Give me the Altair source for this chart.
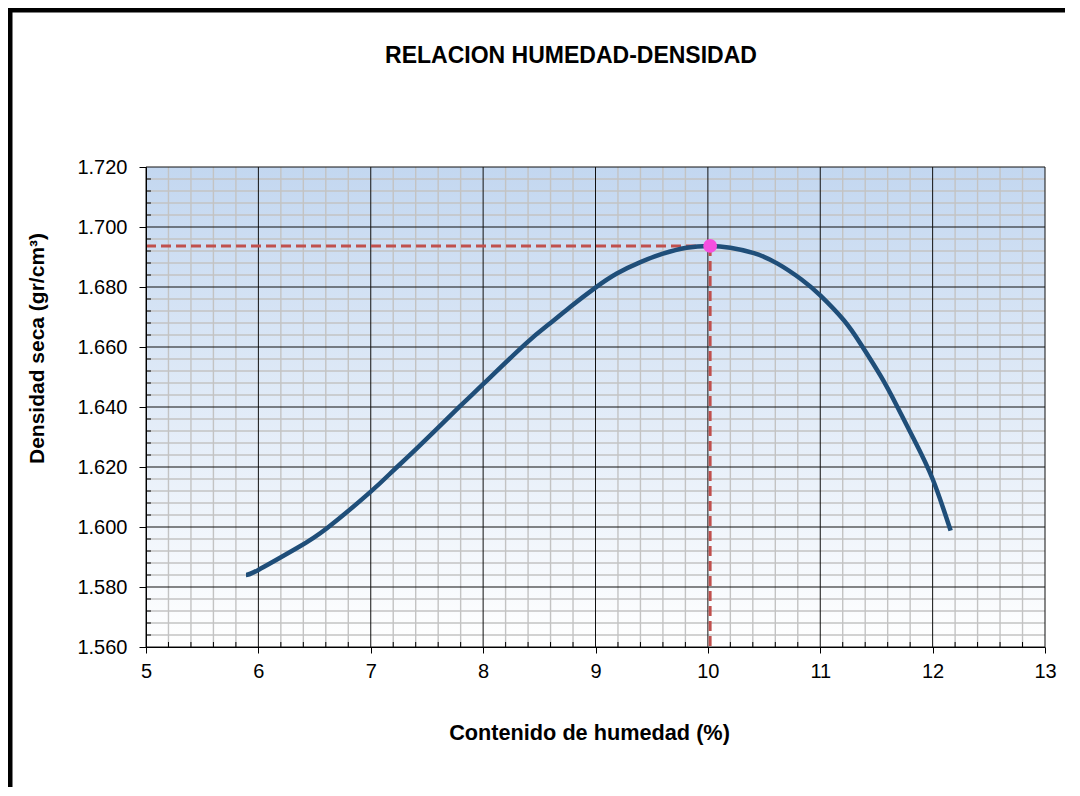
import altair as alt
import pandas as pd

# ---- data ----
humedad = [5.89, 6.00, 6.34, 6.61, 7.00, 7.20, 7.41, 7.79, 8.00, 8.37, 8.60, 8.78,
           9.00, 9.19, 9.40, 9.60, 9.81, 10.02, 10.20, 10.41, 10.62, 10.83, 11.00,
           11.21, 11.36, 11.54, 11.68, 11.83, 12.00, 12.16]
densidad = [1.5840, 1.5857, 1.5929, 1.5996, 1.6118, 1.6188, 1.6262, 1.6401, 1.6476,
            1.6608, 1.6680, 1.6735, 1.6798, 1.6845, 1.6883, 1.6911, 1.6931, 1.6937,
            1.6931, 1.6913, 1.6878, 1.6826, 1.6772, 1.6689, 1.6610, 1.6502, 1.6405,
            1.6295, 1.6160, 1.5988]
hum_opt = [10.02]
dens_max = [1.6937]

x_major = [5, 6, 7, 8, 9, 10, 11, 12, 13]
y_major = [1.56, 1.58, 1.60, 1.62, 1.64, 1.66, 1.68, 1.70, 1.72]
x_minor = [round(5 + 0.2 * i, 1) for i in range(41) if i % 5]
y_minor = [round(1.56 + 0.004 * i, 3) for i in range(41) if i % 5]

title_text = "RELACION HUMEDAD-DENSIDAD"
x_title = "Contenido de humedad  (%)"
y_title = "Densidad  seca (gr/cm³)"

# ---- layout / style ----
W, H = 899, 480
F = "Liberation Sans"

xs = alt.Scale(domain=[5, 13], nice=False, zero=False)
ys = alt.Scale(domain=[1.56, 1.72], nice=False, zero=False)

xaxis = alt.Axis(values=x_major, format="d", grid=False, domainColor="#000",
                 domainWidth=1, tickColor="#000", tickSize=6, tickWidth=1,
                 labelFont=F, labelFontSize=20, labelColor="#000", labelPadding=8,
                 labelFlush=False, title=x_title, titleFont=F, titleFontSize=21.7,
                 titleFontWeight="bold", titleColor="#000", titleX=443, titleY=92,
                 titleBaseline="alphabetic", titleAlign="center", zindex=1)
yaxis = alt.Axis(values=y_major, format=".3f", grid=False, domainColor="#000",
                 domainWidth=1, tickColor="#000", tickSize=7, tickWidth=1,
                 labelFont=F, labelFontSize=20, labelColor="#000", labelPadding=12,
                 labelFlush=False, title=y_title, titleFont=F, titleFontSize=21,
                 titleFontWeight="bold", titleColor="#000", titleX=-103, titleY=181,
                 titleAngle=270, titleBaseline="alphabetic", titleAlign="center",
                 zindex=1)


def X(f):
    return alt.X(f"{f}:Q", scale=xs, axis=xaxis)


def Y(f):
    return alt.Y(f"{f}:Q", scale=ys, axis=yaxis)


one = pd.DataFrame({"a": [0]})
curve_df = pd.DataFrame({"x": humedad, "y": densidad})
opt_df = pd.DataFrame({"x": hum_opt, "y": dens_max, "x0": [x_major[0]], "y0": [y_major[0]]})

grad = alt.Gradient(gradient="linear",
                    stops=[alt.GradientStop(color="#C3D7F0", offset=0),
                           alt.GradientStop(color="#FFFFFF", offset=1)],
                    x1=0, x2=0, y1=0, y2=1)

bg = alt.Chart(one).mark_rect(fill=grad).encode(
    x=alt.value(0), x2=alt.value(W), y=alt.value(0), y2=alt.value(H))

xminor_grid = alt.Chart(pd.DataFrame({"v": x_minor})).mark_rule(
    color="#C3C3C3", strokeWidth=1.4).encode(x=X("v"), y=alt.value(0), y2=alt.value(H))
yminor_grid = alt.Chart(pd.DataFrame({"v": y_minor})).mark_rule(
    color="#C3C3C3", strokeWidth=1.4).encode(y=Y("v"), x=alt.value(0), x2=alt.value(W))
xmajor_grid = alt.Chart(pd.DataFrame({"v": x_major})).mark_rule(
    color="#111", strokeWidth=1).encode(x=X("v"), y=alt.value(0), y2=alt.value(H))
ymajor_grid = alt.Chart(pd.DataFrame({"v": y_major})).mark_rule(
    color="#111", strokeWidth=1).encode(y=Y("v"), x=alt.value(0), x2=alt.value(W))
xminor_ticks = alt.Chart(pd.DataFrame({"v": x_minor})).mark_rule(
    color="#000", strokeWidth=1).encode(x=X("v"), y=alt.value(H - 5), y2=alt.value(H))
yminor_ticks = alt.Chart(pd.DataFrame({"v": y_minor})).mark_rule(
    color="#000", strokeWidth=1).encode(y=Y("v"), x=alt.value(0), x2=alt.value(5))

hdash = alt.Chart(opt_df).mark_rule(color="#C0504D", strokeWidth=3, strokeDash=[10, 5]).encode(
    x=X("x0"), x2=alt.X2("x:Q"), y=Y("y"))
vdash = alt.Chart(opt_df).mark_rule(color="#C0504D", strokeWidth=3, strokeDash=[10, 5]).encode(
    x=X("x"), y=Y("y"), y2=alt.Y2("y0:Q"))

curve = alt.Chart(curve_df).mark_line(color="#1F4E79", strokeWidth=4.5,
                                      interpolate="natural").encode(x=X("x"), y=Y("y"))
point = alt.Chart(opt_df).mark_point(filled=True, color="#F54FE0", size=190,
                                     opacity=1).encode(x=X("x"), y=Y("y"))

title = alt.Chart(one).mark_text(text=title_text, font=F, fontSize=23, fontWeight="bold",
                                 align="center", baseline="alphabetic", color="#000").encode(
    x=alt.value(425), y=alt.value(-104.5))

frame_top = alt.Chart(one).mark_rule(color="#000", strokeWidth=5).encode(
    x=alt.value(-140), x2=alt.value(1000), y=alt.value(-157))
frame_left = alt.Chart(one).mark_rule(color="#000", strokeWidth=5).encode(
    x=alt.value(-136), y=alt.value(-160), y2=alt.value(700))

chart = alt.layer(
    bg, xminor_grid, yminor_grid, xmajor_grid, ymajor_grid, xminor_ticks, yminor_ticks,
    hdash, vdash, curve, point, title, frame_top, frame_left
).properties(
    width=W, height=H,
    padding={"left": 138, "top": 159, "right": 20, "bottom": 140},
    autosize=alt.AutoSizeParams(type="none"),
    background="white",
).configure_view(stroke=None)

chart.save("out.html", embed_options={"renderer": "svg", "actions": False})
